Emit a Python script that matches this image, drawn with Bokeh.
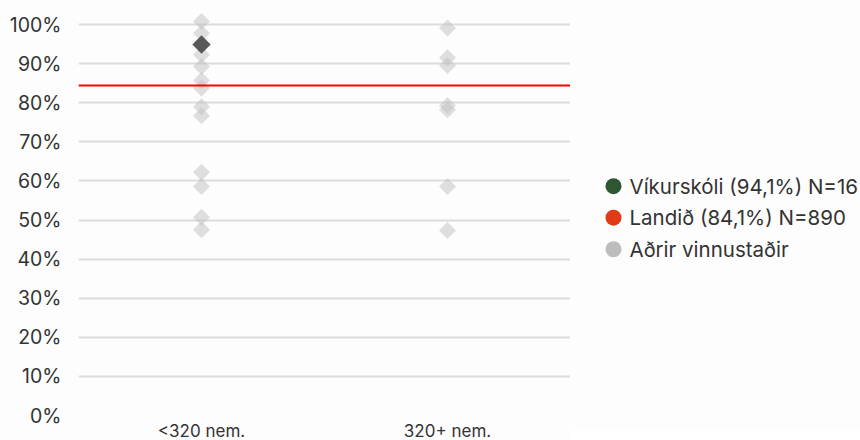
import math
from bokeh.plotting import figure
from bokeh.layouts import row
from bokeh.models import Range1d, FixedTicker, Span
from bokeh.core.properties import value
from bokeh.embed import file_html
from bokeh.resources import INLINE

# ---- data ----
categories = ["<320 nem.", "320+ nem."]
small_others = [100.8, 97.8, 92.3, 89.3, 85.7, 83.8, 79.0, 76.7, 62.2, 58.6, 50.7, 47.5]
large_others = [99.1, 91.5, 89.5, 79.3, 78.2, 58.6, 47.3]
school_category = "<320 nem."
school_value = 94.9
national_value = 84.4
y_ticks = [0, 10, 20, 30, 40, 50, 60, 70, 80, 90, 100]
y_tick_labels = ["0%", "10%", "20%", "30%", "40%", "50%", "60%", "70%", "80%", "90%", "100%"]
legend_labels = ["Víkurskóli (94,1%) N=16", "Landið (84,1%) N=890", "Aðrir vinnustaðir"]
legend_colors = ["#2e5631", "#e03a17", "#bdbdbd"]

FONT = "Inter"
BG = "#fdfdfd"

p = figure(x_range=categories, y_range=Range1d(0, 103.6),
           frame_width=492, frame_height=405,
           min_border_left=78, min_border_top=10, min_border_bottom=0, min_border_right=0,
           output_backend="svg", toolbar_location=None,
           background_fill_color=BG, border_fill_color=BG, outline_line_color=None)

# other workplaces
ox = [categories[0]] * len(small_others) + [categories[1]] * len(large_others)
oy = small_others + large_others
p.scatter(x=ox, y=oy, marker="square", size=12, angle=math.pi / 4,
          fill_color="#c0c0c0", fill_alpha=0.5, line_color=None)

# national line
p.add_layout(Span(location=national_value, dimension="width",
                  line_color="#ff0000", line_width=2))

# the school
p.scatter(x=[school_category], y=[school_value], marker="square", size=13,
          angle=math.pi / 4, fill_color="#505050", fill_alpha=0.95, line_color=None)

# axes
p.xgrid.grid_line_color = None
p.ygrid.grid_line_color = "#dcdcdc"
p.ygrid.grid_line_width = 2
p.yaxis.ticker = FixedTicker(ticks=y_ticks)
p.yaxis.major_label_overrides = {t: l for t, l in zip(y_ticks, y_tick_labels)}
for ax in (p.xaxis, p.yaxis):
    ax.axis_line_color = None
    ax.major_tick_line_color = None
    ax.minor_tick_line_color = None
    ax.major_label_text_font = FONT
    ax.major_label_text_color = "#333333"
p.yaxis.major_label_text_font_size = "19.5px"
p.xaxis.major_label_text_font_size = "17px"
p.yaxis.major_label_standoff = 11
p.xaxis.major_label_standoff = -1

# legend panel (a second, axis-less figure measured in pixels from its top-left)
LW, LH = 290, 430
leg = figure(width=LW, height=LH, x_range=Range1d(0, LW), y_range=Range1d(LH, 0),
             x_axis_type=None, y_axis_type=None, min_border=0,
             output_backend="svg", toolbar_location=None,
             background_fill_color=BG, border_fill_color=BG, outline_line_color=None)
leg.grid.grid_line_color = None
n = len(legend_labels)
item_y = [192.7 + 34.6 * i for i in range(n)]
leg.scatter(x=[43] * n, y=item_y, marker="circle", size=16,
            fill_color=legend_colors, line_color=None)
leg.text(x=[59] * n, y=item_y, text=legend_labels, text_font=value(FONT),
         text_font_size="20.5px", text_color="#333333",
         text_baseline="middle", text_align="left")

layout = row(p, leg)
open("out.html", "w").write(file_html(layout, INLINE))
